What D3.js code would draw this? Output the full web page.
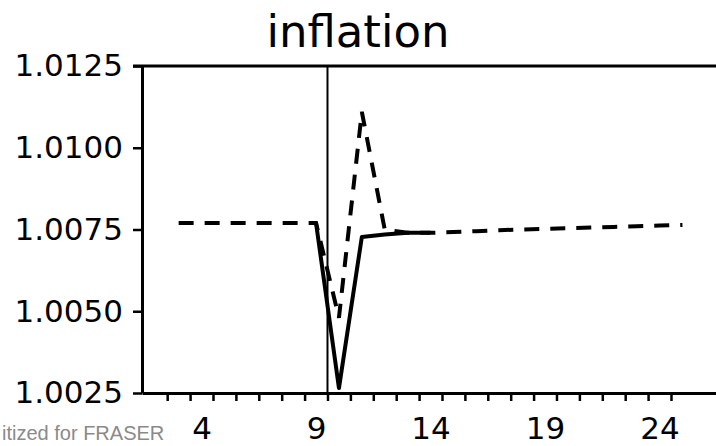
<!DOCTYPE html>
<html>
<head>
<meta charset="utf-8">
<script src="https://cdn.jsdelivr.net/npm/d3@7"></script>
<style>
  body { margin: 0; background: #fff; }
</style>
</head>
<body>
<div id="chart"></div>
<script>
// periods and the two inflation paths
const dashPeriods = [3, 4, 5, 6, 7, 8, 9, 10, 11, 12, 13, 14, 15, 16, 17, 18, 19, 20, 21, 22, 23, 24, 25];
const dashValues = [1.0077, 1.0077, 1.0077, 1.0077, 1.0077, 1.0077, 1.0077, 1.0048, 1.0111, 1.0075,
  1.0074, 1.0074, 1.00742, 1.00745, 1.00748, 1.0075, 1.00752, 1.00754, 1.00756, 1.00758, 1.0076, 1.00762, 1.00764];
const solidPeriods = [9, 10, 11, 12, 13, 14];
const solidValues = [1.0077, 1.00265, 1.00727, 1.00735, 1.0074, 1.0074];
const shockPeriod = 9.5;
const yTicks = [1.0025, 1.0050, 1.0075, 1.0100, 1.0125];
const xLabels = [4, 9, 14, 19, 24];
const xMinorTicks = d3.range(2.5, 25, 1);

const W = 716, H = 446;
const margin = {top: 66, left: 142, bottom: 53};
const height = H - margin.top - margin.bottom;

const svg = d3.select("#chart")
  .append("svg")
  .attr("width", W)
  .attr("height", H)
  .style("font-family", "'DejaVu Sans', sans-serif");

// x: about 22.9px per period, right frame falls outside the window
const x = d3.scaleLinear()
  .domain([1.4, 27])
  .range([margin.left, margin.left + 25.6 * 22.9]);

const y = d3.scaleLinear()
  .domain([1.0025, 1.0125])
  .range([margin.top + height, margin.top]);

// title
svg.append("text")
  .attr("x", 358)
  .attr("y", 47)
  .attr("text-anchor", "middle")
  .style("font-size", "45px")
  .text("inflation");

// top frame line
svg.append("line")
  .attr("x1", margin.left - 9).attr("x2", W)
  .attr("y1", y(1.0125)).attr("y2", y(1.0125))
  .attr("stroke", "#000").attr("stroke-width", 3);

// y axis
const yAxis = svg.append("g")
  .attr("transform", `translate(${margin.left},0)`)
  .call(d3.axisLeft(y).tickValues(yTicks).tickFormat(d3.format(".4f")).tickSize(9).tickSizeOuter(0).tickPadding(10));
yAxis.select(".domain").attr("stroke-width", 3);
yAxis.selectAll(".tick line").attr("stroke-width", 2.5);
yAxis.selectAll("text").style("font-size", "31px").style("font-family", "'DejaVu Sans', sans-serif").attr("fill", "#000");

// x axis: minor ticks between periods
const xAxis = svg.append("g")
  .attr("transform", `translate(0,${y(1.0025)})`)
  .call(d3.axisBottom(x).tickValues(xMinorTicks).tickFormat("").tickSize(8).tickSizeOuter(0));
xAxis.select(".domain").attr("stroke-width", 3);
xAxis.selectAll(".tick line").attr("stroke-width", 2.5);

// x labels
const xLab = svg.append("g")
  .attr("transform", `translate(0,${y(1.0025)})`)
  .call(d3.axisBottom(x).tickValues(xLabels).tickSize(0).tickPadding(24));
xLab.select(".domain").remove();
xLab.selectAll("text").style("font-size", "31px").style("font-family", "'DejaVu Sans', sans-serif").attr("fill", "#000");

// shock marker
svg.append("line")
  .attr("x1", x(shockPeriod)).attr("x2", x(shockPeriod))
  .attr("y1", y(1.0125)).attr("y2", y(1.0025))
  .attr("stroke", "#000").attr("stroke-width", 2);

const line = d3.line()
  .x(d => x(d[0]))
  .y(d => y(d[1]));

svg.append("path")
  .datum(dashPeriods.map((p, i) => [p, dashValues[i]]))
  .attr("d", line)
  .attr("fill", "none")
  .attr("stroke", "#000")
  .attr("stroke-width", 4)
  .attr("stroke-dasharray", "15,11");

svg.append("path")
  .datum(solidPeriods.map((p, i) => [p, solidValues[i]]))
  .attr("d", line)
  .attr("fill", "none")
  .attr("stroke", "#000")
  .attr("stroke-width", 4)
  .attr("stroke-linejoin", "round");

// scan watermark, only the visible part of it
svg.append("text")
  .attr("x", 2)
  .attr("y", 440)
  .style("font-family", "'Liberation Sans', Arial, sans-serif")
  .style("font-size", "20px")
  .attr("fill", "#8a8a8a")
  .text("itized for FRASER");
</script>
</body>
</html>
